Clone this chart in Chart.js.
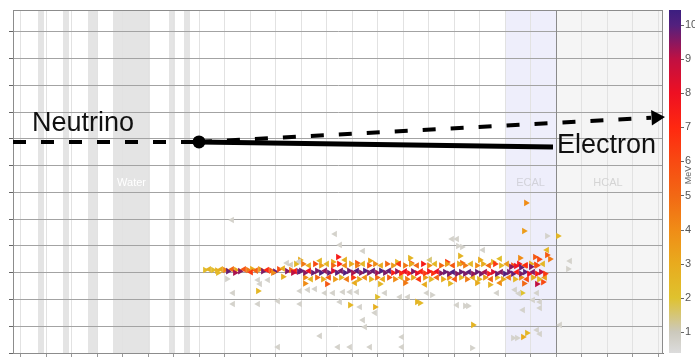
<!DOCTYPE html>
<html>
<head>
<meta charset="utf-8">
<script src="https://cdn.jsdelivr.net/npm/chart.js@4.4.1/dist/chart.umd.min.js"></script>
<style>
  html, body { margin: 0; padding: 0; background: #fff; }
  #wrap { width: 695px; height: 357px; position: relative; }
</style>
</head>
<body>
<div id="wrap"><canvas id="eventChart"></canvas></div>
<script>
// Axis ranges (x in cm along the beam, y in layer units, colour scale in MeV)
const xRange = [0, 650];
const yRange = [0, 12.82];
const energyRange = [0.38, 10.44];
const xGridStart = 7.5;
const xGridStep = 25.5;
const yGridTicks = [0, 1, 2, 3, 4, 5, 6, 7, 8, 9, 10, 11, 12];
const energyTicks = [1, 2, 3, 4, 5, 6, 7, 8, 9, 10];

// Detector regions [start, end] in x
const thinLayers = [[25, 31], [50, 56], [75, 85], [156, 162], [171, 177]];
const waterRegion = [100, 137];
const ecalRegion = [492, 543];
const hcalRegion = [543, 650];

// Particle tracks
const vertex = [186, 7.89];
const neutrinoIn = [[0, 7.89], [186, 7.89]];
const neutrinoOut = [[186, 7.89], [638, 8.79]];
const arrowTip = [643, 8.80];
const electronTrack = [[186, 7.89], [540, 7.70]];

// Hits: [x, y, energy MeV, direction (1 right, -1 left)]
const trackStart = [
  [192,3.10,2.3,1],[196,3.13,2.6,-1],[200,3.10,2.2,1],[204,3.08,2.8,1],[208,3.13,3.0,-1],
  [212,3.10,4.2,1],[215,3.06,9.8,1],[219,3.13,5.0,-1],[223,3.10,3.2,1],[227,3.06,9.5,1],
  [231,3.13,5.6,-1],[235,3.10,4.5,1],[239,3.14,3.0,1],[243,3.08,5.2,-1],[247,3.13,3.6,1],
  [250,3.06,9.6,1],[254,3.10,7.0,-1],[258,3.08,5.5,1],[262,3.04,9.8,1],[266,3.13,6.0,1],
  [270,3.16,3.0,-1],[274,3.06,9.5,1],[278,3.10,5.0,1],[282,3.06,7.5,-1],[286,3.04,9.8,1],
  [205,3.00,2.4,1],[222,3.00,9.2,1],[238,3.02,6.5,-1],[260,3.00,4.0,1],[280,3.00,9.0,1],
  [274,3.36,0.7,-1],[278,3.30,0.9,-1],[283,3.33,2.5,1],[286,3.42,0.7,-1]
];
const trackCore = [
  [288,3.07,9.8,1],[292,3.00,9.5,1],[296,3.07,8.0,-1],[300,3.00,9.8,1],[304,3.07,9.6,1],
  [308,3.00,10,1],[312,3.07,9.4,-1],[316,3.00,9.8,1],[320,3.07,8.5,1],[324,3.00,9.9,1],
  [328,3.07,9.6,-1],[332,3.00,10,1],[336,3.07,9.7,1],[340,3.00,9.2,1],[344,3.07,9.9,-1],
  [348,3.00,9.5,1],[352,3.07,10,1],[356,3.00,9.6,1],[360,3.07,9.8,-1],[364,3.00,9.3,1],
  [368,3.07,10,1],[372,3.00,9.6,1],[376,3.07,9.8,-1],[380,3.00,7.5,1],[384,3.05,9.4,1],
  [388,2.98,7.0,1],[392,3.05,8.0,-1],[396,2.98,7.5,1],[400,3.05,9.6,1],[404,2.98,8.2,1],
  [408,3.05,7.2,-1],[412,2.98,6.5,1],[416,3.05,7.8,1],[420,2.98,6.8,1],[424,3.05,8.0,-1],
  [428,2.98,9.5,1],[432,3.03,9.8,1],[436,2.96,9.6,1],[440,3.03,10,-1],[444,2.96,9.5,1],
  [448,3.03,9.8,1],[452,2.96,9.6,1],[456,3.03,9.9,-1],[460,2.96,9.4,1],[464,3.03,9.8,1],
  [468,2.96,9.6,1],[472,3.03,9.2,-1],[476,2.96,7.5,1],[480,3.03,8.5,1],[484,2.96,9.8,1],
  [488,3.03,9.5,-1],[492,2.96,10,1],[496,3.03,9.7,1],[500,2.96,9.8,1],[504,3.03,7.5,-1],
  [508,2.96,9.6,1],[512,3.03,9.9,1],[516,2.96,8.0,1],[520,3.03,9.5,-1],[524,2.96,7.5,1],
  [528,3.03,9.0,1],[532,2.96,6.5,1],
  [498,3.22,9.5,1],[503,3.25,8.0,1],[508,3.20,9.8,1],[513,3.28,7.0,-1],[518,3.22,9.6,1],[523,3.30,6.0,1]
];
const trackUpper = [
  [290,3.33,4.5,1],[296,3.27,3.0,-1],[302,3.33,6.0,1],[308,3.27,3.5,1],[314,3.33,2.5,-1],
  [320,3.27,5.0,1],[326,3.33,7.0,1],[332,3.27,4.0,-1],[338,3.33,3.0,1],[344,3.27,4.5,1],
  [350,3.33,2.5,-1],[356,3.27,5.5,1],[362,3.33,4.0,1],[368,3.27,3.0,-1],[374,3.33,5.0,1],
  [380,3.27,3.5,1],[386,3.33,6.5,-1],[392,3.27,4.5,1],[398,3.33,3.0,1],[404,3.27,5.0,-1],
  [410,3.33,7.5,1],[416,3.27,4.0,1],[422,3.33,2.5,-1],[428,3.27,5.0,1],[434,3.33,3.5,1],
  [440,3.27,5.5,-1],[446,3.33,3.0,1],[452,3.27,4.5,1],[458,3.33,2.5,-1],[464,3.27,4.0,1],
  [470,3.33,3.0,1],[476,3.27,5.0,-1],[482,3.33,6.5,1],[488,3.27,2.5,1],[494,3.33,3.5,-1],
  [500,3.27,6.0,1],[506,3.33,7.5,1],[512,3.27,4.5,-1],[518,3.33,3.0,1],[524,3.27,5.5,1],[530,3.33,2.5,-1]
];
const trackLower = [
  [292,2.82,4.0,1],[298,2.76,2.5,-1],[304,2.82,5.0,1],[310,2.76,3.0,1],[316,2.82,5.5,-1],
  [322,2.76,3.5,1],[328,2.82,2.5,1],[334,2.76,4.5,-1],[340,2.82,6.5,1],[346,2.76,3.0,1],
  [352,2.82,4.0,-1],[358,2.76,2.5,1],[364,2.82,5.0,1],[370,2.76,3.0,-1],[376,2.82,5.5,1],
  [382,2.76,4.0,1],[388,2.82,2.5,-1],[394,2.76,4.5,1],[400,2.82,3.0,1],[406,2.76,6.5,-1],
  [412,2.82,3.5,1],[418,2.76,2.5,1],[424,2.82,5.0,-1],[430,2.76,3.0,1],[436,2.82,4.0,1],
  [442,2.76,5.5,-1],[448,2.82,2.5,1],[454,2.76,4.5,1],[460,2.82,3.0,-1],[466,2.76,2.5,1],
  [472,2.82,3.5,1],[478,2.76,5.0,-1],[484,2.82,2.4,1],[490,2.76,3.0,1],[496,2.82,4.5,-1],
  [502,2.76,2.5,1],[508,2.82,4.0,1],[514,2.76,6.0,-1],[520,2.82,3.0,1],[526,2.76,2.5,1],[532,2.82,3.5,-1]
];
const trackOuter = [
  [287,3.48,3.0,1],[307,3.45,2.5,-1],[325,3.59,7.5,1],[320,3.40,3.0,1],[344,3.36,5.5,1],
  [332,3.48,2.8,-1],[357,3.45,3.2,1],[384,3.40,2.6,1],[397,3.55,2.6,1],[398,3.36,5.5,1],
  [417,3.48,1.5,-1],[434,3.40,6.5,1],[447,3.63,2.6,1],[449,3.36,4.8,1],[467,3.48,3.0,1],
  [480,3.40,2.5,1],[487,3.52,2.2,-1],[507,3.55,4.0,1],[522,3.59,5.5,1],[526,3.50,6.0,1],
  [534,3.66,5.5,1],[537,3.51,4.5,1],[534,3.85,2.5,-1],
  [292,2.60,4.0,1],[314,2.58,5.5,1],[342,2.62,3.0,-1],[367,2.58,2.5,1],[392,2.62,4.5,1],
  [412,2.56,3.0,-1],[437,2.60,2.4,1],[464,2.62,3.0,1],[477,2.55,2.6,1],[487,2.62,4.0,-1],
  [511,2.60,5.0,1],[524,2.58,9.0,1],[530,2.65,6.0,1],[270,2.85,2.8,1]
];
const strayHits = [
  [219,4.97,0.7,-1],[214,2.77,0.7,1],[220,2.24,0.7,-1],[220,1.83,0.7,-1],[245,2.73,0.7,-1],
  [247,2.58,0.7,-1],[255,2.73,0.7,-1],[245,2.32,2.5,1],[245,1.83,0.7,-1],[265,1.94,0.7,-1],
  [287,2.32,0.7,-1],[295,2.36,0.7,-1],[302,2.39,0.7,-1],[312,2.24,0.7,-1],[320,2.24,0.7,-1],
  [287,1.83,0.7,-1],[330,2.28,0.7,-1],[337,2.28,0.7,-1],[344,2.28,0.7,-1],[327,1.91,0.7,-1],
  [337,1.79,2.5,1],[347,1.72,0.7,-1],[350,1.23,0.7,-1],[362,1.50,0.7,-1],[352,0.97,0.7,-1],
  [307,0.64,0.7,-1],[265,0.22,0.7,-1],[325,0.22,0.7,-1],[337,0.22,0.7,-1],[357,0.22,0.7,-1],
  [362,1.72,2.8,1],[364,2.09,2.2,1],[322,4.45,0.7,-1],[327,4.04,0.7,-1],[350,3.81,0.7,-1],
  [439,4.26,0.7,-1],[444,4.26,0.7,-1],[445,4.00,0.7,1],[449,3.96,0.7,1],[470,3.85,0.7,-1],
  [534,4.37,0.7,1],[545,4.37,2.5,1],[557,3.44,0.7,-1],[555,3.14,0.7,1],[372,2.24,0.7,-1],
  [387,2.09,0.7,-1],[395,2.09,0.7,-1],[414,2.24,0.7,-1],[419,2.17,0.7,1],[484,2.24,0.7,-1],
  [502,2.36,0.7,-1],[509,2.24,2.0,1],[506,2.22,0.7,-1],[524,2.24,0.7,-1],[510,1.61,0.7,-1],
  [404,1.91,2.6,1],[407,1.87,2.4,1],[444,1.79,0.7,-1],[452,1.76,0.7,1],[455,1.76,0.7,1],
  [520,1.98,0.7,-1],[527,1.91,0.7,-1],[527,1.68,0.7,-1],[460,1.05,2.6,1],[547,1.05,0.7,-1],
  [389,0.60,0.7,-1],[389,0.22,0.7,-1],[459,0.19,0.7,1],[500,0.56,0.7,1],[504,0.56,0.7,1],
  [510,0.60,3.0,1],[514,0.75,2.5,1],[524,0.86,0.7,-1],[527,0.71,0.7,-1],
  [513,5.61,4.0,1],[511,4.56,3.5,1]
];

// Colour scale stops [MeV, colour]
const colorStops = [
  [0.38, '#dcdcdc'], [1, '#ccc9bc'], [2, '#dfc22e'], [3, '#e8ab1e'], [4, '#f08c16'],
  [5, '#f26814'], [6, '#f84a12'], [7, '#ff2810'], [8, '#ee1022'], [9, '#c01042'],
  [10, '#52207e'], [10.44, '#3c1e80']
];

function hexToRgb(h) {
  return [parseInt(h.substr(1, 2), 16), parseInt(h.substr(3, 2), 16), parseInt(h.substr(5, 2), 16)];
}

function energyColor(e) {
  if (e <= colorStops[0][0]) return colorStops[0][1];
  for (let i = 1; i < colorStops.length; i++) {
    if (e <= colorStops[i][0]) {
      const a = colorStops[i - 1], b = colorStops[i];
      const t = (e - a[0]) / (b[0] - a[0]);
      const ca = hexToRgb(a[1]), cb = hexToRgb(b[1]);
      const c = ca.map((v, k) => Math.round(v + (cb[k] - v) * t));
      return `rgb(${c[0]},${c[1]},${c[2]})`;
    }
  }
  return colorStops[colorStops.length - 1][1];
}

const toPoint = p => ({ x: p[0], y: p[1] });
const toHit = h => ({ x: h[0], y: h[1], e: h[2], dir: h[3] });

function hitDataset(label, hits, order) {
  return {
    label: label,
    data: hits.map(toHit),
    pointStyle: 'triangle',
    pointRadius: 3.8,
    borderWidth: 0,
    pointRotation: c => (c.raw && c.raw.dir < 0 ? -90 : 90),
    backgroundColor: c => (c.raw ? energyColor(c.raw.e) : '#ccc'),
    order: order
  };
}

// Bands, labels, frame and colour bar
const detectorPlugin = {
  id: 'detector',
  beforeDraw(chart) {
    const { ctx, chartArea: a, scales: { x } } = chart;
    const band = (r, color) => {
      const x0 = x.getPixelForValue(r[0]);
      const x1 = x.getPixelForValue(r[1]);
      ctx.fillStyle = color;
      ctx.fillRect(x0, a.top, x1 - x0, a.bottom - a.top);
    };
    ctx.save();
    ctx.fillStyle = '#fff';
    ctx.fillRect(0, 0, chart.width, chart.height);
    band(hcalRegion, '#f5f5f5');
    band(ecalRegion, '#eeeefb');
    band(waterRegion, '#e4e4e4');
    thinLayers.forEach(r => band(r, '#e4e4e4'));
    ctx.restore();
  },
  beforeDatasetsDraw(chart) {
    const { ctx, chartArea: a, scales: { x, y } } = chart;
    ctx.save();
    // ECAL / HCAL divider
    const xd = Math.round(x.getPixelForValue(ecalRegion[1])) + 0.5;
    ctx.strokeStyle = '#8a8a8a';
    ctx.lineWidth = 1;
    ctx.beginPath();
    ctx.moveTo(xd, a.top);
    ctx.lineTo(xd, a.bottom);
    ctx.stroke();
    // frame
    ctx.strokeStyle = '#8c8c8c';
    ctx.strokeRect(a.left + 0.5, a.top + 0.5, a.right - a.left - 1, a.bottom - a.top);
    // region names
    ctx.font = '11px "Liberation Sans", Arial, sans-serif';
    ctx.textAlign = 'center';
    ctx.textBaseline = 'middle';
    const ly = y.getPixelForValue(6.35);
    ctx.fillStyle = '#ffffff';
    ctx.fillText('Water', x.getPixelForValue((waterRegion[0] + waterRegion[1]) / 2), ly);
    ctx.fillStyle = '#d2d2da';
    ctx.fillText('ECAL', x.getPixelForValue((ecalRegion[0] + ecalRegion[1]) / 2), ly);
    ctx.fillStyle = '#d4d4d4';
    ctx.fillText('HCAL', x.getPixelForValue(595), ly);
    ctx.restore();
  },
  afterDatasetsDraw(chart) {
    const { ctx, scales: { x, y, cbar } } = chart;
    ctx.save();
    ctx.fillStyle = '#111';
    ctx.font = '27px "Liberation Sans", Arial, sans-serif';
    ctx.textBaseline = 'alphabetic';
    ctx.textAlign = 'left';
    ctx.fillText('Neutrino', x.getPixelForValue(19), y.getPixelForValue(8.30));
    ctx.fillText('Electron', x.getPixelForValue(544), y.getPixelForValue(7.48));

    // colour bar
    const top = cbar.top, bottom = cbar.bottom;
    const x0 = cbar.left + 6, w = 12;
    const grad = ctx.createLinearGradient(0, bottom, 0, top);
    colorStops.forEach(s => {
      const f = (bottom - cbar.getPixelForValue(s[0])) / (bottom - top);
      grad.addColorStop(Math.min(1, Math.max(0, f)), s[1]);
    });
    ctx.fillStyle = grad;
    ctx.fillRect(x0, top, w, bottom - top);
    ctx.strokeStyle = '#666';
    ctx.lineWidth = 1;
    energyTicks.forEach(v => {
      const py = Math.round(cbar.getPixelForValue(v)) + 0.5;
      ctx.beginPath();
      ctx.moveTo(x0 + w, py);
      ctx.lineTo(x0 + w + 3, py);
      ctx.stroke();
    });
    ctx.translate(cbar.left + 28, cbar.getPixelForValue(5.6));
    ctx.rotate(-Math.PI / 2);
    ctx.font = '9px "Liberation Sans", Arial, sans-serif';
    ctx.fillStyle = '#666';
    ctx.textAlign = 'center';
    ctx.fillText('MeV', 0, 0);
    ctx.restore();
  }
};

document.addEventListener('DOMContentLoaded', function () {
  Chart.defaults.font.family = '"Liberation Sans", Arial, sans-serif';
  const ctx = document.getElementById('eventChart').getContext('2d');

  new Chart(ctx, {
    type: 'scatter',
    data: {
      datasets: [
        {
          label: 'Neutrino in',
          data: neutrinoIn.map(toPoint),
          showLine: true,
          borderColor: '#000',
          borderWidth: 4,
          borderDash: [13, 15],
          pointRadius: 0,
          order: 0
        },
        {
          label: 'Neutrino out',
          data: neutrinoOut.map(toPoint),
          showLine: true,
          borderColor: '#000',
          borderWidth: 4,
          borderDash: [13, 15],
          pointRadius: 0,
          order: 0
        },
        {
          label: 'Arrow',
          data: [toPoint(arrowTip)],
          pointStyle: 'triangle',
          pointRotation: 87,
          pointRadius: 9,
          backgroundColor: '#000',
          borderColor: '#000',
          borderWidth: 0,
          clip: false,
          order: 0
        },
        {
          label: 'Electron',
          data: electronTrack.map(toPoint),
          showLine: true,
          borderColor: '#000',
          borderWidth: 5,
          pointRadius: 0,
          order: 0
        },
        {
          label: 'Vertex',
          data: [toPoint(vertex)],
          pointRadius: 6.5,
          backgroundColor: '#000',
          borderWidth: 0,
          order: 0
        },
        hitDataset('Stray hits', strayHits, 5),
        hitDataset('Track outer', trackOuter, 4),
        hitDataset('Track lower', trackLower, 3),
        hitDataset('Track upper', trackUpper, 3),
        hitDataset('Track start', trackStart, 2),
        hitDataset('Track core', trackCore, 1)
      ]
    },
    options: {
      responsive: true,
      maintainAspectRatio: false,
      animation: false,
      layout: { autoPadding: false, padding: { top: 10, left: 0, right: 0, bottom: 0 } },
      plugins: {
        legend: { display: false },
        tooltip: { enabled: false }
      },
      scales: {
        x: {
          type: 'linear',
          position: 'bottom',
          min: xRange[0],
          max: xRange[1],
          grid: { color: '#e2e2e2', tickLength: 4, tickColor: '#999' },
          border: { color: '#777' },
          ticks: { display: false },
          afterBuildTicks: s => {
            const t = [];
            for (let v = xGridStart; v <= xRange[1]; v += xGridStep) t.push({ value: v });
            s.ticks = t;
          },
          afterFit: s => { s.height = 4; s.paddingLeft = 0; s.paddingRight = 0; }
        },
        y: {
          type: 'linear',
          position: 'left',
          min: yRange[0],
          max: yRange[1],
          grid: { color: '#a3a3a3', tickLength: 4, tickColor: '#666' },
          border: { color: '#666' },
          ticks: { display: false },
          afterBuildTicks: s => { s.ticks = yGridTicks.map(v => ({ value: v })); },
          afterFit: s => { s.width = 13; s.paddingTop = 0; s.paddingBottom = 0; }
        },
        cbar: {
          type: 'linear',
          position: 'right',
          min: energyRange[0],
          max: energyRange[1],
          grid: { drawOnChartArea: false, drawTicks: false },
          border: { display: false },
          ticks: { padding: 22, color: '#555', font: { size: 11 } },
          afterBuildTicks: s => { s.ticks = energyTicks.map(v => ({ value: v })); },
          afterFit: s => { s.width = 32; s.paddingTop = 0; s.paddingBottom = 0; }
        }
      }
    },
    plugins: [detectorPlugin]
  });
});
</script>
</body>
</html>
